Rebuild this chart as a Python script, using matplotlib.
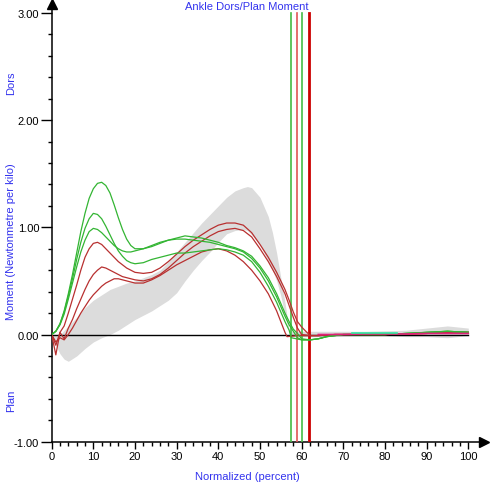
import matplotlib.pyplot as plt
import numpy as np

# normalised gait cycle (percent)
band_x = [0, 1, 2, 3, 4, 6, 8, 10, 12, 14, 16, 18, 20, 22, 24, 26, 28, 30, 32, 34, 36, 38, 40,
          42, 44, 46, 47, 48, 50, 52, 53, 54, 55, 56, 57, 57.5, 60, 65, 70, 75, 80, 85, 90, 95, 100]
band_hi = [0.0, 0.0, 0.0, 0.04, 0.08, 0.16, 0.25, 0.32, 0.37, 0.42, 0.45, 0.48, 0.50, 0.53, 0.56,
           0.60, 0.68, 0.77, 0.86, 0.95, 1.04, 1.12, 1.20, 1.28, 1.34, 1.37, 1.38, 1.37, 1.28, 1.10,
           0.95, 0.76, 0.53, 0.30, 0.04, 0.03, 0.03, 0.03, 0.03, 0.03, 0.035, 0.04, 0.06, 0.08, 0.06]
band_lo = [0.0, -0.10, -0.18, -0.23, -0.25, -0.20, -0.13, -0.07, -0.03, 0.0, 0.04, 0.09, 0.14, 0.18,
           0.22, 0.27, 0.32, 0.39, 0.50, 0.60, 0.69, 0.77, 0.86, 0.94, 0.97, 0.98, 0.97, 0.93, 0.84,
           0.68, 0.60, 0.50, 0.36, 0.18, 0.02, -0.02, -0.02, -0.02, -0.01, -0.01, -0.01, -0.02, -0.02,
           -0.03, -0.01]

stance_x = [0, 1, 2, 3, 4, 5, 6, 7, 8, 9, 10, 11, 12, 13, 14, 15, 16, 17, 18, 19, 20,
            22, 24, 26, 28, 30, 32, 34, 36, 38, 40, 42, 44, 46, 48, 50, 52, 54, 55, 56]
tail_x = [62, 64, 66, 68, 70, 75, 80, 85, 90, 95, 100]

# green trials
g1 = [0.00, 0.03, 0.10, 0.22, 0.38, 0.56, 0.76, 0.96, 1.13, 1.27, 1.36, 1.41, 1.42, 1.39, 1.32, 1.21,
      1.09, 0.98, 0.89, 0.83, 0.80, 0.80, 0.82, 0.85, 0.88, 0.90, 0.92, 0.91, 0.90, 0.88, 0.86, 0.83,
      0.81, 0.78, 0.73, 0.64, 0.53, 0.38, 0.29, 0.20]
g1_end_x = [57, 58, 59, 60]
g1_end = [0.12, 0.05, 0.01, -0.04]
g2 = [0.00, 0.03, 0.10, 0.21, 0.36, 0.52, 0.70, 0.86, 0.99, 1.08, 1.13, 1.12, 1.08, 1.01, 0.93, 0.85,
      0.78, 0.73, 0.69, 0.67, 0.66, 0.67, 0.70, 0.72, 0.74, 0.76, 0.76, 0.77, 0.78, 0.79, 0.80, 0.79,
      0.77, 0.74, 0.68, 0.58, 0.45, 0.30, 0.21, 0.12]
g2_end_x = [57, 57.5, 60]
g2_end = [0.04, -0.03, -0.05]
g3 = [0.00, 0.03, 0.09, 0.19, 0.33, 0.48, 0.63, 0.77, 0.88, 0.96, 0.99, 0.98, 0.95, 0.91, 0.87, 0.83,
      0.80, 0.78, 0.77, 0.77, 0.78, 0.80, 0.83, 0.86, 0.88, 0.89, 0.89, 0.88, 0.87, 0.86, 0.84, 0.82,
      0.80, 0.77, 0.71, 0.62, 0.50, 0.35, 0.26, 0.17]
g3_end_x = [57, 58, 59, 60]
g3_end = [0.09, 0.03, -0.03, -0.05]
g_tail = [-0.05, -0.04, -0.02, -0.01, 0.0, 0.0, 0.0, 0.01, 0.02, 0.03, 0.02]

# red trials
r1 = [0.00, -0.10, 0.02, 0.08, 0.20, 0.33, 0.46, 0.60, 0.72, 0.80, 0.85, 0.86, 0.84, 0.80, 0.76, 0.72,
      0.68, 0.65, 0.62, 0.60, 0.58, 0.57, 0.58, 0.62, 0.68, 0.75, 0.82, 0.88, 0.93, 0.98, 1.02, 1.04,
      1.04, 1.02, 0.95, 0.84, 0.72, 0.58, 0.50, 0.42]
r1_end_x = [57, 58, 59, 60, 61, 61.8]
r1_end = [0.32, 0.21, 0.12, 0.07, 0.03, 0.0]
r2 = [0.00, -0.19, 0.02, -0.04, 0.06, 0.14, 0.24, 0.33, 0.42, 0.50, 0.56, 0.60, 0.63, 0.62, 0.60, 0.58,
      0.56, 0.54, 0.53, 0.52, 0.51, 0.50, 0.52, 0.56, 0.62, 0.69, 0.76, 0.82, 0.87, 0.92, 0.96, 0.98,
      0.99, 0.97, 0.91, 0.80, 0.68, 0.54, 0.46, 0.38]
r2_end_x = [57, 58, 59, 60]
r2_end = [0.27, 0.16, 0.06, 0.0]
r3 = [0.00, -0.07, -0.03, -0.05, 0.00, 0.06, 0.13, 0.20, 0.26, 0.32, 0.37, 0.41, 0.45, 0.48, 0.50, 0.52,
      0.52, 0.51, 0.50, 0.49, 0.48, 0.48, 0.51, 0.55, 0.60, 0.65, 0.69, 0.73, 0.77, 0.79, 0.80, 0.78,
      0.74, 0.68, 0.60, 0.50, 0.38, 0.22, 0.12, 0.02]
r3_end_x = [56.5, 59]
r3_end = [-0.02, -0.01]
r_tail = [-0.01, -0.01, -0.005, 0.0, 0.0, 0.0, 0.0, 0.005, 0.01, 0.02, 0.02]

pink_x = [64, 70, 75, 80, 85, 90, 100]
pink_y = [0.0, 0.0, 0.005, 0.005, 0.005, 0.01, 0.01]
cyan_x = [72, 76, 80, 83]
cyan_y = [0.01, 0.01, 0.01, 0.01]

toe_off = [57.5, 58.8, 60.0, 61.8]
toe_col = ['#44bb44', '#e05555', '#44bb44', '#cc0000']
toe_lw = [1.2, 1.2, 1.2, 2.0]

green = '#33b533'
red = '#b83030'
blue = '#3333ee'

plt.rcParams['font.family'] = ['Liberation Sans', 'DejaVu Sans']

fig = plt.figure(figsize=(4.92, 4.85), dpi=100)
ax = fig.add_axes([0.105, 0.0872, 0.879, 0.9018])

ax.fill_between(band_x, band_lo, band_hi, color='#dcdcdc', lw=0, zorder=1)
ax.plot([0, 100], [0, 0], color='black', lw=1.0, zorder=2)

for xv, c, w in zip(toe_off, toe_col, toe_lw):
	ax.plot([xv, xv], [-1, 3], color=c, lw=w, zorder=3)

greens = [(g1, g1_end_x, g1_end), (g2, g2_end_x, g2_end), (g3, g3_end_x, g3_end)]
reds = [(r1, r1_end_x, r1_end), (r2, r2_end_x, r2_end), (r3, r3_end_x, r3_end)]
for curves, tail, col in [(reds, r_tail, red), (greens, g_tail, green)]:
	for y, ex, ey in curves:
		xs = stance_x + ex + tail_x
		ys = y + ey + tail
		ax.plot(xs, ys, color=col, lw=0.9, zorder=4)

ax.plot(pink_x, pink_y, color='#e0207a', lw=1.2, zorder=5)
ax.plot(cyan_x, cyan_y, color='#30e8a0', lw=1.2, zorder=5)

ax.set_xlim(0, 103.8)
ax.set_ylim(-1, 3.08)

for s in ['top', 'right']:
	ax.spines[s].set_visible(False)
for s in ['left', 'bottom']:
	ax.spines[s].set_linewidth(1.1)
ax.plot(1, 0, '>k', ms=7, transform=ax.transAxes, clip_on=False)
ax.plot(0, 1, '^k', ms=7, transform=ax.transAxes, clip_on=False)

ax.set_xticks(np.arange(0, 101, 10))
ax.set_xticks(np.arange(0, 101, 2), minor=True)
ax.set_yticks([-1, 0, 1, 2, 3])
ax.set_yticklabels([f'{v:.2f}' for v in [-1, 0, 1, 2, 3]])
ax.set_yticks(np.arange(-1, 3.01, 0.2), minor=True)
ax.tick_params(axis='y', which='major', length=8, width=1, labelsize=8, pad=1)
ax.tick_params(axis='y', which='minor', length=3, width=1)
ax.tick_params(axis='x', which='major', length=5, width=1, labelsize=8, pad=2)
ax.tick_params(axis='x', which='minor', length=3, width=1)

fig.text(247 / 492, 1 - 7.5 / 485, 'Ankle Dors/Plan Moment', color=blue, fontsize=8, ha='center', va='center')
fig.text(11.5 / 492, 1 - 242 / 485, 'Moment (Newtonmetre per kilo)', color=blue, fontsize=8,
	rotation=90, ha='center', va='center')
fig.text(11.5 / 492, 1 - 83 / 485, 'Dors', color=blue, fontsize=8, rotation=90, ha='center', va='center')
fig.text(11.5 / 492, 1 - 401 / 485, 'Plan', color=blue, fontsize=8, rotation=90, ha='center', va='center')
fig.text(247 / 492, 1 - 477.5 / 485, 'Normalized (percent)', color=blue, fontsize=8, ha='center', va='center')

fig.savefig('out.png', dpi=100)
